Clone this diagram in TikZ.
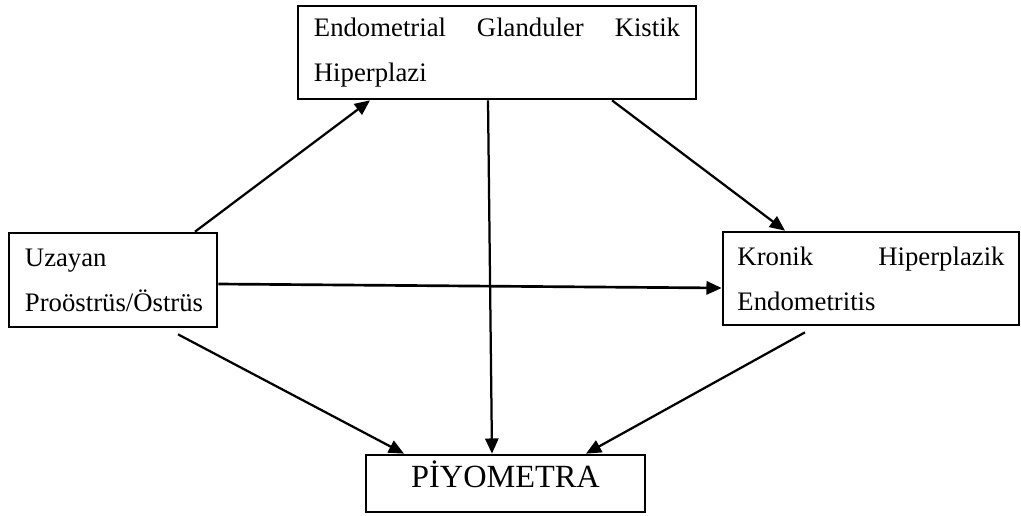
\documentclass[tikz,border=0pt]{standalone}
\usepackage{fontspec}
\setmainfont{Liberation Serif}
\usepackage{tikz}
\usetikzlibrary{arrows.meta,positioning}

\begin{document}
\begin{tikzpicture}[x=0.025cm,y=-0.025cm,
    box/.style={draw,line width=1.9pt,rectangle,inner sep=0pt,align=left,
      font=\fontsize{19}{32}\selectfont},
    conn/.style={line width=1.6pt,-{Triangle[length=0.38cm,width=0.33cm]}}]
  \useasboundingbox (0,0) rectangle (1021,515);
  % boxes
  \node[box,minimum width=398*0.025cm,minimum height=93*0.025cm,text width=9.15cm]
    (ekh) at (497,52.5) {Endometrial\hfill Glanduler\hfill Kistik\\Hiperplazi};
  \node[box,minimum width=208*0.025cm,minimum height=94*0.025cm,text width=4.4cm]
    (uzayan) at (113,280) {Uzayan\\Proöstrüs/Östrüs};
  \node[box,minimum width=296*0.025cm,minimum height=93*0.025cm,text width=6.675cm]
    (khe) at (871,278.5) {Kronik\hfill Hiperplazik\\Endometritis};
  \node[box,minimum width=279*0.025cm,minimum height=57*0.025cm,align=center,
    font=\fontsize{23}{28}\selectfont,text height=0.575cm,text depth=0.4cm]
    (piyo) at (505.5,483.5) {PİYOMETRA};
  % arrows
  \draw[conn] ([shift={(82,0)}]uzayan.north) -- ([shift={(-127,0)}]ekh.south);
  \draw[conn] ([shift={(-9,0)}]ekh.south) -- ([shift={(-13.5,0)}]piyo.north);
  \draw[conn] ([shift={(115,0)}]ekh.south) -- ([shift={(-86,0)}]khe.north);
  \draw[conn,line width=1.9pt] ([shift={(0,4)}]uzayan.east) -- ([shift={(0,9.5)}]khe.west);
  \draw[conn] ([shift={(65,6)}]uzayan.south) -- ([shift={(-101.5,0)}]piyo.north);
  \draw[conn] ([shift={(-66,6)}]khe.south) -- ([shift={(80.5,0)}]piyo.north);
\end{tikzpicture}
\end{document}
